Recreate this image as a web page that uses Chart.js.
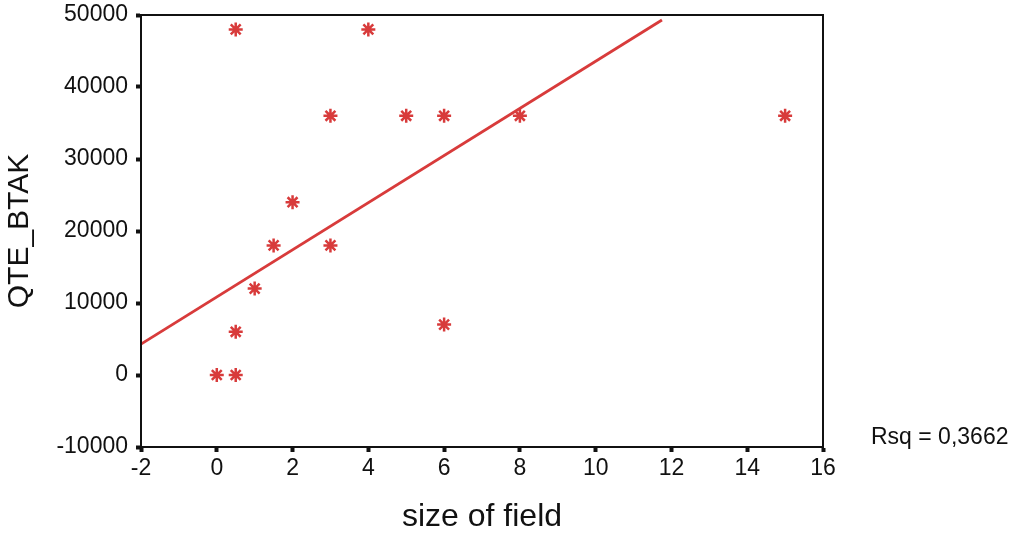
<!DOCTYPE html>
<html>
<head>
<meta charset="utf-8">
<script src="https://cdn.jsdelivr.net/npm/chart.js@4/dist/chart.umd.min.js"></script>
<style>
  html, body { margin:0; padding:0; background:#fff; }
  #wrap { width:1034px; height:536px; position:relative; }
</style>
</head>
<body>
<div id="wrap"><canvas id="c"></canvas></div>
<script>
// size of field vs QTE_BTAK
const fieldSize = [0.5, 4, 3, 5, 6, 8, 15, 2, 1.5, 3, 1, 0.5, 0, 0.5, 6];
const qteBtak   = [48000, 48000, 36000, 36000, 36000, 36000, 36000, 24000, 18000, 18000, 12000, 6000, 0, 0, 7000];

// fitted line end points (x, y)
const fitX = [-2, 11.75];
const fitY = [4300, 49300];

const xTicks = [-2, 0, 2, 4, 6, 8, 10, 12, 14, 16];
const yTicks = [-10000, 0, 10000, 20000, 30000, 40000, 50000];
const rsqLabel = 'Rsq = 0,3662';

const RED  = '#d83b3b';
const INK  = '#111';
const FONT = "'Liberation Sans', Arial, sans-serif";

// box around plot + Rsq note
const frame = {
  id: 'frame',
  afterDraw(chart) {
    const { ctx, chartArea: a } = chart;
    ctx.save();
    ctx.strokeStyle = INK;
    ctx.lineWidth = 2;
    ctx.strokeRect(a.left, a.top, a.right - a.left, a.bottom - a.top);
    ctx.fillStyle = INK;
    ctx.font = '23px ' + FONT;
    ctx.textBaseline = 'middle';
    ctx.fillText(rsqLabel, 871, 438);
    ctx.restore();
  }
};

new Chart(document.getElementById('c'), {
  type: 'scatter',
  data: {
    datasets: [
      {
        label: 'QTE_BTAK',
        data: fieldSize.map((x, i) => ({ x, y: qteBtak[i] })),
        pointStyle: 'star',
        pointRadius: 7,
        pointHoverRadius: 7,
        borderColor: RED,
        backgroundColor: RED,
        borderWidth: 2.5,
      },
      {
        label: 'Fit',
        type: 'line',
        data: fitX.map((x, i) => ({ x, y: fitY[i] })),
        borderColor: RED,
        borderWidth: 2.8,
        pointRadius: 0,
        fill: false,
      }
    ]
  },
  options: {
    responsive: true,
    maintainAspectRatio: false,
    animation: false,
    layout: { padding: { top: 15, right: 211, bottom: 0, left: 0 } },
    plugins: { legend: { display: false }, tooltip: { enabled: false } },
    scales: {
      x: {
        type: 'linear',
        min: -2, max: 16,
        afterFit: s => { s.height = 89; s.paddingLeft = 0; s.paddingRight = 0; },
        afterBuildTicks: s => { s.ticks = xTicks.map(v => ({ value: v })); },
        border: { display: true, color: INK, width: 2 },
        grid: { drawOnChartArea: false, drawTicks: true, tickLength: 5, tickWidth: 4, color: INK },
        ticks: { color: INK, font: { family: FONT, size: 23 }, padding: 3, maxRotation: 0, callback: v => String(v) },
        title: { display: true, text: 'size of field', color: INK, font: { family: FONT, size: 32 }, padding: 0 }
      },
      y: {
        type: 'linear',
        min: -10000, max: 50000,
        afterFit: s => { s.width = 141; s.paddingTop = 0; s.paddingBottom = 0; },
        afterBuildTicks: s => { s.ticks = yTicks.map(v => ({ value: v })); },
        border: { display: true, color: INK, width: 2 },
        grid: { drawOnChartArea: false, drawTicks: true, tickLength: 5, tickWidth: 4, color: INK },
        ticks: { color: INK, font: { family: FONT, size: 23 }, padding: 8, callback: v => String(v) },
        title: { display: true, text: 'QTE_BTAK', color: INK, font: { family: FONT, size: 30 }, padding: { top: 2, bottom: 0 } }
      }
    }
  },
  plugins: [frame]
});
</script>
</body>
</html>
